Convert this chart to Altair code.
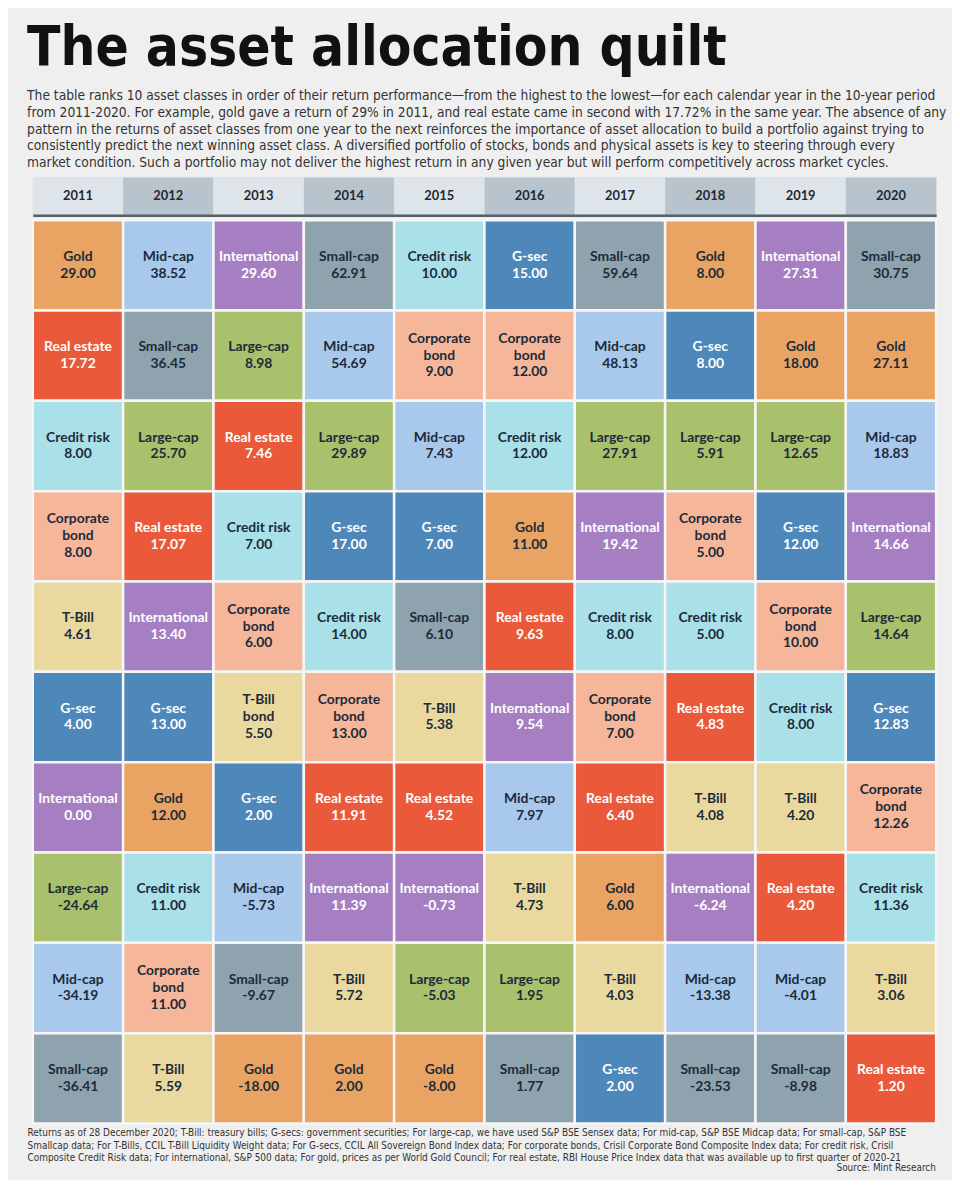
import altair as alt
import pandas as pd

years = ["2011", "2012", "2013", "2014", "2015", "2016", "2017", "2018", "2019", "2020"]

names_2011 = ["Gold", "Real estate", "Credit risk", "Corporate bond", "T-Bill", "G-sec", "International", "Large-cap", "Mid-cap", "Small-cap"]
values_2011 = [29.00, 17.72, 8.00, 8.00, 4.61, 4.00, 0.00, -24.64, -34.19, -36.41]
names_2012 = ["Mid-cap", "Small-cap", "Large-cap", "Real estate", "International", "G-sec", "Gold", "Credit risk", "Corporate bond", "T-Bill"]
values_2012 = [38.52, 36.45, 25.70, 17.07, 13.40, 13.00, 12.00, 11.00, 11.00, 5.59]
names_2013 = ["International", "Large-cap", "Real estate", "Credit risk", "Corporate bond", "T-Bill bond", "G-sec", "Mid-cap", "Small-cap", "Gold"]
values_2013 = [29.60, 8.98, 7.46, 7.00, 6.00, 5.50, 2.00, -5.73, -9.67, -18.00]
names_2014 = ["Small-cap", "Mid-cap", "Large-cap", "G-sec", "Credit risk", "Corporate bond", "Real estate", "International", "T-Bill", "Gold"]
values_2014 = [62.91, 54.69, 29.89, 17.00, 14.00, 13.00, 11.91, 11.39, 5.72, 2.00]
names_2015 = ["Credit risk", "Corporate bond", "Mid-cap", "G-sec", "Small-cap", "T-Bill", "Real estate", "International", "Large-cap", "Gold"]
values_2015 = [10.00, 9.00, 7.43, 7.00, 6.10, 5.38, 4.52, -0.73, -5.03, -8.00]
names_2016 = ["G-sec", "Corporate bond", "Credit risk", "Gold", "Real estate", "International", "Mid-cap", "T-Bill", "Large-cap", "Small-cap"]
values_2016 = [15.00, 12.00, 12.00, 11.00, 9.63, 9.54, 7.97, 4.73, 1.95, 1.77]
names_2017 = ["Small-cap", "Mid-cap", "Large-cap", "International", "Credit risk", "Corporate bond", "Real estate", "Gold", "T-Bill", "G-sec"]
values_2017 = [59.64, 48.13, 27.91, 19.42, 8.00, 7.00, 6.40, 6.00, 4.03, 2.00]
names_2018 = ["Gold", "G-sec", "Large-cap", "Corporate bond", "Credit risk", "Real estate", "T-Bill", "International", "Mid-cap", "Small-cap"]
values_2018 = [8.00, 8.00, 5.91, 5.00, 5.00, 4.83, 4.08, -6.24, -13.38, -23.53]
names_2019 = ["International", "Gold", "Large-cap", "G-sec", "Corporate bond", "Credit risk", "T-Bill", "Real estate", "Mid-cap", "Small-cap"]
values_2019 = [27.31, 18.00, 12.65, 12.00, 10.00, 8.00, 4.20, 4.20, -4.01, -8.98]
names_2020 = ["Small-cap", "Gold", "Mid-cap", "International", "Large-cap", "G-sec", "Corporate bond", "Credit risk", "T-Bill", "Real estate"]
values_2020 = [30.75, 27.11, 18.83, 14.66, 14.64, 12.83, 12.26, 11.36, 3.06, 1.20]

asset_classes = ["Gold", "Mid-cap", "International", "Small-cap", "Credit risk",
                 "G-sec", "Real estate", "Large-cap", "Corporate bond", "T-Bill"]
class_colors = ["#e9a363", "#a8c8ec", "#a67fc2", "#8fa3ae", "#aae0e8",
                "#4e87b9", "#e9593a", "#a9c06c", "#f5b69a", "#ead99f"]
white_text_classes = ["International", "Real estate", "G-sec"]
label_class = {"T-Bill bond": "T-Bill"}
two_line = {"Corporate bond": "Corporate\nbond", "T-Bill bond": "T-Bill\nbond"}

header_shades = ["light", "dark"]

title_text = "The asset allocation quilt"
intro_lines = [
    "The table ranks 10 asset classes in order of their return performance\u2014from the highest to the lowest\u2014for each calendar year in the 10-year period",
    "from 2011-2020. For example, gold gave a return of 29% in 2011, and real estate came in second with 17.72% in the same year. The absence of any",
    "pattern in the returns of asset classes from one year to the next reinforces the importance of asset allocation to build a portfolio against trying to",
    "consistently predict the next winning asset class. A diversified portfolio of stocks, bonds and physical assets is key to steering through every",
    "market condition. Such a portfolio may not deliver the highest return in any given year but will perform competitively across market cycles.",
]
note_lines = [
    "Returns as of 28 December 2020; T-Bill: treasury bills; G-secs: government securities; For large-cap, we have used S&P BSE Sensex data; For mid-cap, S&P BSE Midcap data; For small-cap, S&P BSE",
    "Smallcap data; For T-Bills, CCIL T-Bill Liquidity Weight data; For G-secs, CCIL All Sovereign Bond Index data; For corporate bonds, Crisil Corporate Bond Composite Index data; For credit risk, Crisil",
    "Composite Credit Risk data; For international, S&P 500 data; For gold, prices as per World Gold Council; For real estate, RBI House Price Index data that was available up to first quarter of 2020-21",
]
source_line = "Source: Mint Research"

all_names = [names_2011, names_2012, names_2013, names_2014, names_2015,
             names_2016, names_2017, names_2018, names_2019, names_2020]
all_values = [values_2011, values_2012, values_2013, values_2014, values_2015,
              values_2016, values_2017, values_2018, values_2019, values_2020]

rows = []
for yr, names, vals in zip(years, all_names, all_values):
    for rank, (nm, v) in enumerate(zip(names, vals), start=1):
        label = two_line.get(nm, nm) + "\n" + f"{v:.2f}"
        rows.append({
            "year": yr,
            "rank": rank,
            "cls": label_class.get(nm, nm),
            "label": label,
            "nlines": label.count("\n") + 1,
        })
df = pd.DataFrame(rows)

hdr_df = pd.DataFrame({"year": years,
                       "shade": [header_shades[i % 2] for i in range(len(years))]})

W = 911
LH = 17
NARROW = "Liberation Sans Narrow, DejaVu Sans Condensed, sans-serif"
CELLFONT = "Lato, Open Sans, sans-serif"

header = alt.Chart(hdr_df).encode(
    x=alt.X("year:O", sort=years, title=None,
            scale=alt.Scale(paddingInner=0, paddingOuter=0),
            axis=alt.Axis(labels=False, ticks=False, domain=True,
                          domainColor="#56606a", domainWidth=2.5, grid=False))
)
header = alt.layer(
    header.mark_rect().encode(
        color=alt.Color("shade:N", scale=alt.Scale(domain=["light", "dark"],
                                                   range=["#dde4ea", "#b7c4cd"]),
                        legend=None)),
    header.mark_text(font=CELLFONT, fontWeight="bold", fontSize=13,
                     color="#1f2a33", baseline="middle").encode(text="year:N"),
).properties(width=W, height=38)

base = alt.Chart(df).encode(
    x=alt.X("year:O", sort=years, axis=None,
            scale=alt.Scale(paddingInner=0, paddingOuter=0)),
    y=alt.Y("rank:O", axis=None,
            scale=alt.Scale(paddingInner=0, paddingOuter=0)),
)
cells = base.mark_rect(stroke="#f6f6f6", strokeWidth=2.5).encode(
    color=alt.Color("cls:N", scale=alt.Scale(domain=asset_classes, range=class_colors),
                    legend=None)
)
text_color = alt.condition(alt.FieldOneOfPredicate(field="cls", oneOf=white_text_classes),
                           alt.value("#ffffff"), alt.value("#1c2b3a"))
label_layers = []
for n in (2, 3):
    label_layers.append(
        base.transform_filter(alt.datum.nlines == n).mark_text(
            font=CELLFONT, fontWeight="bold", fontSize=14, lineBreak="\n",
            lineHeight=LH, baseline="middle", dy=-(n - 1) * LH / 2,
        ).encode(text="label:N", color=text_color)
    )
grid = alt.layer(cells, *label_layers).properties(
    width=W, height=911,
    title=alt.Title(note_lines, orient="bottom", anchor="start", font=NARROW,
                    fontSize=10, fontWeight="normal", lineHeight=13,
                    color="#333333", offset=3, dx=-4),
)

table = alt.vconcat(header, grid, spacing=2).resolve_scale(color="independent").properties(
    title=alt.Title(source_line, orient="bottom", anchor="end", font=NARROW,
                    fontSize=10, fontWeight="normal", color="#333333", offset=-1, dx=-2),
)

chart = alt.vconcat(table).properties(
    title=alt.Title(
        text=title_text,
        subtitle=intro_lines,
        anchor="start",
        font=NARROW,
        fontSize=55,
        fontWeight="bold",
        color="#111111",
        subtitleFont=NARROW,
        subtitleFontSize=13.8,
        subtitleColor="#333333",
        subtitleLineHeight=17,
        subtitlePadding=12,
        offset=6,
    ),
    padding={"left": 19, "top": 8, "right": 5, "bottom": 2},
).configure_view(strokeWidth=0, stroke="transparent").configure(background="#efefef")

chart.save("out.html", embed_options={"renderer": "svg", "actions": False})
